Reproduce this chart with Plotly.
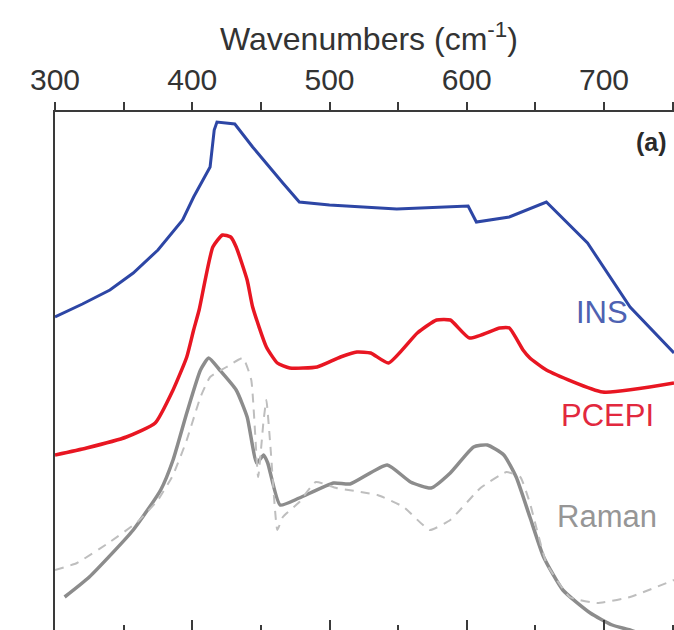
import plotly.graph_objects as go

# Spectra (vertically offset, arbitrary intensity units)
ins_wn = [300, 320, 340, 357, 375, 393, 401, 413, 416, 418, 431, 444, 466, 478, 500, 549, 601, 607, 631, 658, 688, 719, 751]
ins_int = [313, 326, 340, 357, 380, 410, 433, 463, 500, 508, 506, 483, 447, 428, 425, 421, 424, 408, 413, 428, 387, 323, 277]

pcepi_wn = [300, 323, 352, 373, 386, 396, 401, 405, 415, 422, 428, 432, 440, 444, 454, 462, 471, 491, 508,
            520, 530, 543, 564, 578, 588, 602, 624, 631, 641, 646, 658, 699, 751]
pcepi_int = [175, 182, 193, 207, 240, 273, 300, 320, 383, 395, 393, 383, 350, 323, 283, 267, 262, 263, 273,
             278, 277, 267, 297, 310, 310, 292, 302, 302, 280, 272, 260, 238, 247]

raman_wn = [307, 325, 357, 377, 386, 396, 406, 412, 420, 432, 440, 447, 452, 455, 464, 478, 503, 515, 542,
            559, 574, 588, 605, 615, 627, 636, 646, 656, 670, 690, 706, 719, 735]
raman_int = [33, 53, 100, 140, 170, 217, 260, 272, 260, 240, 213, 167, 175, 167, 125, 132, 147, 146, 165,
             148, 142, 157, 183, 185, 175, 153, 113, 73, 40, 17, 5, 0, -8]

raman2_wn = [300, 316, 340, 360, 375, 386, 396, 406, 413, 425, 437, 443, 448, 452, 454, 457, 462, 466, 478,
             490, 505, 535, 554, 573, 588, 610, 629, 639, 646, 658, 675, 695, 719, 751]
raman2_int = [60, 67, 88, 108, 130, 155, 190, 233, 253, 263, 272, 250, 153, 210, 230, 183, 100, 113, 128,
              148, 142, 135, 123, 100, 110, 142, 158, 153, 127, 67, 33, 27, 33, 50]

major_ticks = [300, 400, 500, 600, 700]
minor_ticks = [350, 450, 550, 650, 750]
all_ticks = [300, 350, 400, 450, 500, 550, 600, 650, 700, 750]
tick_text = [str(v) if v % 100 == 0 else "" for v in all_ticks]

X_RANGE = [300, 751]
Y_RANGE = [0, 518]
FONT = "Liberation Sans, Arial, sans-serif"
AXIS_COLOR = "#3a3a3a"

fig = go.Figure()
fig.add_trace(go.Scatter(x=raman2_wn, y=raman2_int, mode="lines", xaxis="x2",
                         line=dict(color="rgb(190,190,190)", width=2, dash="9px,7px",
                                   shape="spline", smoothing=0.4),
                         hoverinfo="skip"))
fig.add_trace(go.Scatter(x=raman_wn, y=raman_int, mode="lines",
                         line=dict(color="rgb(140,140,140)", width=3.5, shape="spline", smoothing=0.5)))
fig.add_trace(go.Scatter(x=pcepi_wn, y=pcepi_int, mode="lines",
                         line=dict(color="rgb(232,22,34)", width=3.5, shape="spline", smoothing=0.5)))
fig.add_trace(go.Scatter(x=ins_wn, y=ins_int, mode="lines",
                         line=dict(color="rgb(45,70,165)", width=3)))

fig.update_layout(
    width=674, height=630,
    margin=dict(l=55, r=0, t=112, b=0),
    paper_bgcolor="white", plot_bgcolor="white",
    showlegend=False,
    font=dict(family=FONT, color=AXIS_COLOR),
    xaxis=dict(
        range=X_RANGE, side="top", showgrid=False, zeroline=False,
        showline=True, linecolor=AXIS_COLOR, linewidth=1.5,
        tickmode="array", tickvals=all_ticks, ticktext=tick_text,
        ticks="outside", ticklen=8, tickwidth=1.5, tickcolor=AXIS_COLOR,
        tickfont=dict(size=30, family=FONT, color="#333333"),
    ),
    xaxis2=dict(
        range=X_RANGE, overlaying="x", side="bottom", showgrid=False, zeroline=False,
        showline=True, linecolor=AXIS_COLOR, linewidth=1.5,
        tickmode="array", tickvals=major_ticks, showticklabels=False,
        ticks="inside", ticklen=10, tickwidth=1.5, tickcolor=AXIS_COLOR,
        minor=dict(tickvals=minor_ticks, ticks="inside", ticklen=5,
                   tickwidth=1.5, tickcolor=AXIS_COLOR),
    ),
    yaxis=dict(
        range=Y_RANGE, showgrid=False, zeroline=False, showticklabels=False,
        showline=True, linecolor=AXIS_COLOR, linewidth=2, ticks="",
    ),
)

labels = [
    ("Wavenumbers (cm<sup>-1</sup>)", 0.507, 1.145, 32, "#333333"),
    ("INS", 0.884, 0.612, 31, "rgb(78,98,178)"),
    ("PCEPI", 0.893, 0.415, 31, "rgb(226,40,62)"),
    ("Raman", 0.892, 0.220, 31, "rgb(150,150,150)"),
    ("<b>(a)</b>", 0.963, 0.942, 25, "#2a2a2a"),
]
for text, xp, yp, size, color in labels:
    fig.add_annotation(text=text, xref="paper", yref="paper", x=xp, y=yp,
                       xanchor="center", yanchor="middle", showarrow=False,
                       font=dict(size=size, family=FONT, color=color))

fig.write_html("out.html")
